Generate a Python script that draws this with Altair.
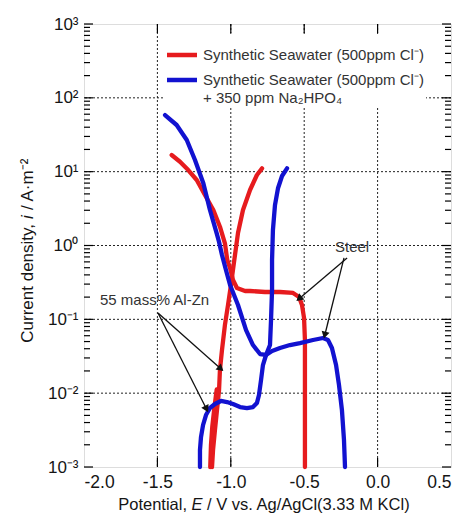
import altair as alt
import pandas as pd

# ---------------- data ----------------
# Steel, synthetic seawater (red)
steel_red_E = [-0.495, -0.495, -0.495, -0.495, -0.501, -0.515, -0.535, -0.576, -0.665, -0.767,
               -0.869, -0.903, -0.958, -0.985, -1.005, -1.024, -1.040, -1.074, -1.119, -1.176,
               -1.232, -1.290, -1.346, -1.403]
steel_red_logi = [-3.0, -2.364, -1.822, -1.280, -0.982, -0.806, -0.698, -0.643, -0.630, -0.630,
                  -0.616, -0.616, -0.576, -0.467, -0.305, -0.197, 0.030, 0.255, 0.481, 0.684,
                  0.887, 1.022, 1.135, 1.226]

# 55 mass% Al-Zn, synthetic seawater (red): anodic branch and the noisy part near Ecorr
alzn_red_E = [-1.128, -1.121, -1.108, -1.094, -1.080, -1.074, -1.060, -1.040, -1.019,
              -0.999, -0.978, -0.951, -0.917, -0.869, -0.822, -0.787]
alzn_red_logi = [-3.0, -2.770, -2.499, -2.228, -1.957, -1.686, -1.415, -1.077, -0.806,
                 -0.535, -0.224, 0.169, 0.481, 0.752, 0.955, 1.045]
alzn_red_c_E = [-1.140, -1.135, -1.126, -1.112, -1.096]
alzn_red_c_logi = [-3.0, -2.70, -2.45, -2.20, -1.95]

# Steel, + Na2HPO4 (blue)
steel_blue_E = [-0.222, -0.229, -0.243, -0.263, -0.283, -0.311, -0.338, -0.372, -0.440, -0.529,
                -0.597, -0.665, -0.719, -0.760, -0.801, -0.849, -0.896, -0.951, -1.005, -1.033,
                -1.060, -1.080, -1.096, -1.142, -1.187, -1.244, -1.300, -1.369, -1.448]
steel_blue_logi = [-3.0, -2.634, -2.228, -1.890, -1.619, -1.388, -1.280, -1.253, -1.280, -1.321,
                   -1.348, -1.388, -1.429, -1.483, -1.470, -1.348, -1.145, -0.806, -0.535, -0.332,
                   -0.129, 0.047, 0.165, 0.481, 0.842, 1.158, 1.429, 1.632, 1.767]

# 55 mass% Al-Zn, + Na2HPO4 (blue)
alzn_blue_E = [-1.210, -1.210, -1.203, -1.189, -1.169, -1.142, -1.108, -1.067, -1.026, -0.985,
               -0.937, -0.890, -0.849, -0.822, -0.808, -0.794, -0.781, -0.760, -0.733, -0.726,
               -0.719, -0.719, -0.713, -0.699, -0.678, -0.651, -0.617]
alzn_blue_logi = [-3.0, -2.770, -2.594, -2.431, -2.296, -2.201, -2.147, -2.106, -2.120, -2.147,
                  -2.188, -2.201, -2.188, -2.133, -2.025, -1.822, -1.619, -1.483, -1.348, -1.009,
                  -0.603, -0.197, 0.210, 0.548, 0.779, 0.941, 1.045]

series_names = ["steel_red", "alzn_red", "alzn_red_c", "steel_blue", "alzn_blue"]
series_colors = ["#e61b1e", "#e61b1e", "#e61b1e", "#1212d0", "#1212d0"]

# annotations
ann_text = ["Steel", "55 mass% Al-Zn"]
ann_E = [-0.174, -1.891]
ann_i = [0.955, 0.183]

arrow_E0 = [-0.208, -0.229, -1.496, -1.496]
arrow_i0 = [0.678, 0.678, 0.122, 0.122]
arrow_E1 = [-0.529, -0.358, -1.074, -1.169]
arrow_i1 = [0.195, 0.0633, 0.0219, 0.0063]
arrow_angle = [229.6, 194.0, 131.6, 153.2]

legend_labels = ["Synthetic Seawater (500ppm Cl\u207b)", "Synthetic Seawater (500ppm Cl\u207b)",
                 "+ 350 ppm Na\u2082HPO\u2084"]

x_title = ["Potential,", "E", "/ V vs. Ag/AgCl(3.33 M KCl)"]
y_title = ["Current density,", "i", "/ A\u00b7m\u207b\u00b2"]

# axes
x_ticks = [-2.0, -1.5, -1.0, -0.5, 0.0, 0.5]
x_grid = [-1.5, -1.0, -0.5, 0.0]
y_major = [1e-3, 1e-2, 1e-1, 1e0, 1e1, 1e2, 1e3]
y_grid = [1e-2, 1e-1, 1e0, 1e1, 1e2]
y_minor = [k * 10.0 ** n for n in range(-3, 3) for k in range(2, 10)]

# ---------------- build tables ----------------
W, H = 367, 443
FONT = "Liberation Sans"
TXT = "#151515"

rows = []
for name, E, L in [("steel_red", steel_red_E, steel_red_logi),
                   ("alzn_red", alzn_red_E, alzn_red_logi),
                   ("alzn_red_c", alzn_red_c_E, alzn_red_c_logi),
                   ("steel_blue", steel_blue_E, steel_blue_logi),
                   ("alzn_blue", alzn_blue_E, alzn_blue_logi)]:
    for k, (e, l) in enumerate(zip(E, L)):
        rows.append({"series": name, "order": k, "E": e, "i": 10 ** l})
curves = pd.DataFrame(rows)

xs = alt.Scale(domain=[-2.0, 0.5], nice=False, zero=False)
ys = alt.Scale(type="log", domain=[1e-3, 1e3], nice=False)

sup = {3: "\u00b3", 2: "\u00b2", 1: "\u00b9", 0: "\u2070", -1: "\u207b\u00b9", -2: "\u207b\u00b2", -3: "\u207b\u00b3"}
ylab = " : ".join([f"round(log(datum.value)/LN10)=={k} ? '10{v}'" for k, v in sup.items()]) + " : ''"

x_axis = alt.Axis(values=x_ticks, grid=False, ticks=False, tickSize=0, domain=False,
                  labelExpr="replace(format(datum.value,'.1f'),'\u2212','-')",
                  labelFontSize=17.5, labelPadding=6, labelColor=TXT, title=None)
y_axis = alt.Axis(values=y_major, grid=False, ticks=False, tickSize=0, domain=False,
                  labelExpr=ylab, labelFontSize=17, labelPadding=6, labelColor=TXT, title=None)

# grid
gx = alt.Chart(pd.DataFrame({"v": x_grid})).mark_rule(color="#222", strokeDash=[2, 2], strokeWidth=1).encode(
    x=alt.X("v:Q", scale=xs, axis=x_axis))
gy = alt.Chart(pd.DataFrame({"v": y_grid})).mark_rule(color="#222", strokeDash=[2, 2], strokeWidth=1).encode(
    y=alt.Y("v:Q", scale=ys, axis=y_axis))

# legend background box
legbox = alt.Chart(pd.DataFrame({"a": [0]})).mark_rect(color="white").encode(
    x=alt.value(79), x2=alt.value(342), y=alt.value(10), y2=alt.value(84))

# inward ticks
def yticks(vals, length):
    d = pd.DataFrame({"v": vals})
    left = alt.Chart(d).mark_rule(color="black", strokeWidth=1.2).encode(
        y=alt.Y("v:Q", scale=ys), x=alt.value(0), x2=alt.value(length))
    right = alt.Chart(d).mark_rule(color="black", strokeWidth=1.2).encode(
        y=alt.Y("v:Q", scale=ys), x=alt.value(W), x2=alt.value(W - length))
    return [left, right]

dxt = pd.DataFrame({"v": x_grid})
topt = alt.Chart(dxt).mark_rule(color="black", strokeWidth=1.2).encode(
    x=alt.X("v:Q", scale=xs), y=alt.value(0), y2=alt.value(9))
bott = alt.Chart(dxt).mark_rule(color="black", strokeWidth=1.2).encode(
    x=alt.X("v:Q", scale=xs), y=alt.value(H), y2=alt.value(H - 9))

# curves
lines = alt.Chart(curves).mark_line(strokeWidth=4.3, strokeCap="round", strokeJoin="round").encode(
    x=alt.X("E:Q", scale=xs),
    y=alt.Y("i:Q", scale=ys),
    color=alt.Color("series:N", scale=alt.Scale(domain=series_names, range=series_colors), legend=None),
    order="order:Q",
    detail="series:N")

# arrows
arr = pd.DataFrame({"E0": arrow_E0, "i0": arrow_i0, "E1": arrow_E1, "i1": arrow_i1, "ang": arrow_angle})
arrow_lines = alt.Chart(arr).mark_rule(color="#111", strokeWidth=1.3).encode(
    x=alt.X("E0:Q", scale=xs), y=alt.Y("i0:Q", scale=ys), x2="E1:Q", y2="i1:Q")
arrow_heads = alt.Chart(arr).mark_point(shape="triangle", filled=True, color="#111", size=65, opacity=1).encode(
    x=alt.X("E1:Q", scale=xs), y=alt.Y("i1:Q", scale=ys), angle=alt.Angle("ang:Q", scale=None))

ann1 = alt.Chart(pd.DataFrame({"t": [ann_text[0]], "E": [ann_E[0]], "i": [ann_i[0]]})).mark_text(
    fontSize=15, color="#333", font=FONT, align="center").encode(
    x=alt.X("E:Q", scale=xs), y=alt.Y("i:Q", scale=ys), text="t:N")
ann2 = alt.Chart(pd.DataFrame({"t": [ann_text[1]], "E": [ann_E[1]], "i": [ann_i[1]]})).mark_text(
    fontSize=15, color="#333", font=FONT, align="left").encode(
    x=alt.X("E:Q", scale=xs), y=alt.Y("i:Q", scale=ys), text="t:N")

# legend
leg_red = alt.Chart(pd.DataFrame({"a": [0]})).mark_rule(color=series_colors[0], strokeWidth=4.5).encode(
    x=alt.value(83), x2=alt.value(113), y=alt.value(31))
leg_blue = alt.Chart(pd.DataFrame({"a": [0]})).mark_rule(color=series_colors[3], strokeWidth=4.5).encode(
    x=alt.value(83), x2=alt.value(113), y=alt.value(56))
leg_t = []
for lab, yy in zip(legend_labels, [31, 56, 74]):
    leg_t.append(alt.Chart(pd.DataFrame({"t": [lab]})).mark_text(
        fontSize=15, color="#333", font=FONT, align="left", baseline="middle").encode(
        x=alt.value(119), y=alt.value(yy), text="t:N"))

# axis titles (with italic symbols)
def ttext(s, x, y, align, italic=False, angle=0, size=16.5):
    return alt.Chart(pd.DataFrame({"t": [s]})).mark_text(
        fontSize=size, color=TXT, font=FONT, align=align, baseline="middle",
        fontStyle="italic" if italic else "normal", angle=angle).encode(
        x=alt.value(x), y=alt.value(y), text="t:N")

XE, XY = 113, 481
YI, YX = 193, -56
titles = [
    ttext(x_title[0], XE - 10, XY, "right"),
    ttext(x_title[1], XE, XY, "center", italic=True),
    ttext(x_title[2], XE + 10, XY, "left"),
    ttext(y_title[0], YX, YI + 7, "right", angle=270, size=17),
    ttext(y_title[1], YX, YI, "center", italic=True, angle=270, size=17),
    ttext(y_title[2], YX, YI - 7, "left", angle=270, size=17),
]

layers = [gx, gy, legbox] + yticks(y_minor, 6) + yticks(y_major, 9) + [topt, bott, lines,
          arrow_lines, arrow_heads, ann1, ann2, leg_red, leg_blue] + leg_t + titles

chart = alt.layer(*layers).properties(
    width=W, height=H,
    padding={"left": 76, "top": 16, "right": 7, "bottom": 49},
    autosize=alt.AutoSizeParams(type="none"),
).configure_view(stroke="black", strokeWidth=1.6).configure(font=FONT)

chart.save("out.html", embed_options={"renderer": "svg", "actions": False})
